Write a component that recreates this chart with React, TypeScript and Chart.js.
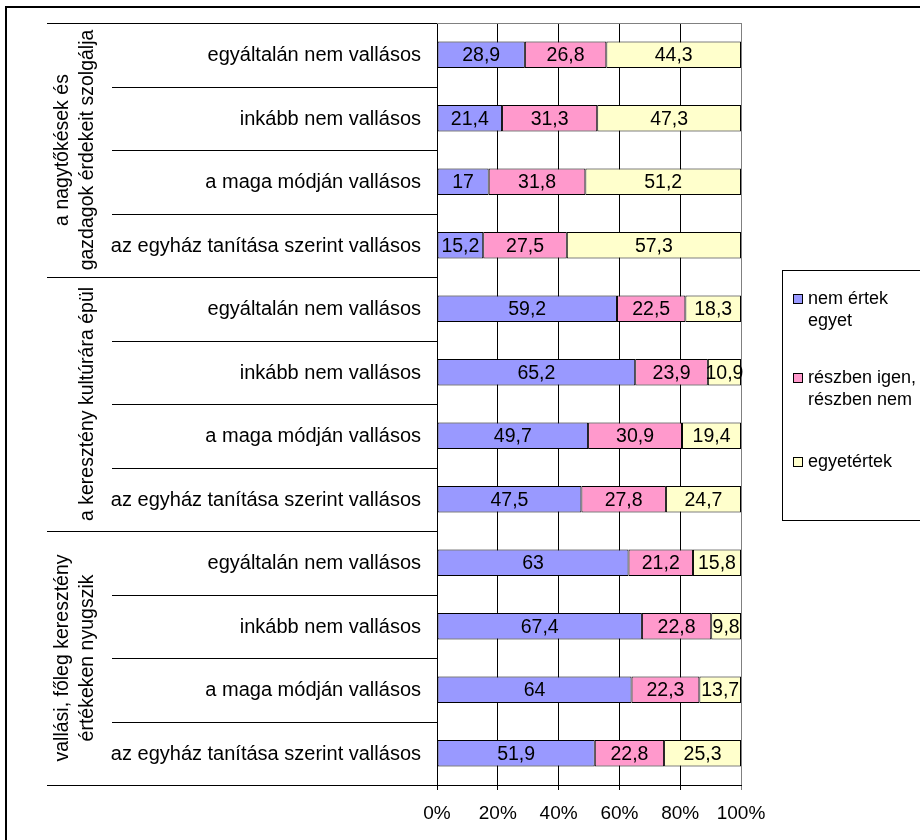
import React, { useEffect, useRef } from "react";
import { Chart, registerables } from "chart.js";

Chart.register(...registerables);

const categories = [
  "egyáltalán nem vallásos",
  "inkább nem vallásos",
  "a maga módján vallásos",
  "az egyház tanítása szerint vallásos",
  "egyáltalán nem vallásos",
  "inkább nem vallásos",
  "a maga módján vallásos",
  "az egyház tanítása szerint vallásos",
  "egyáltalán nem vallásos",
  "inkább nem vallásos",
  "a maga módján vallásos",
  "az egyház tanítása szerint vallásos",
];

const groupLabels: string[][] = [
  ["a nagytőkések és", "gazdagok érdekeit szolgálja"],
  ["a keresztény kultúrára épül"],
  ["vallási, főleg keresztény", "értékeken nyugszik"],
];
const groupSize = 4;

const seriesNames = ["nem értek egyet", "részben igen, részben nem", "egyetértek"];
const legendLines: string[][] = [
  ["nem értek", "egyet"],
  ["részben igen,", "részben nem"],
  ["egyetértek"],
];
const seriesColors = ["#9999FF", "#FF99CC", "#FFFFCC"];

const nemErtekEgyet = [28.9, 21.4, 17, 15.2, 59.2, 65.2, 49.7, 47.5, 63, 67.4, 64, 51.9];
const reszbenIgenNem = [26.8, 31.3, 31.8, 27.5, 22.5, 23.9, 30.9, 27.8, 21.2, 22.8, 22.3, 22.8];
const egyetertek = [44.3, 47.3, 51.2, 57.3, 18.3, 10.9, 19.4, 24.7, 15.8, 9.8, 13.7, 25.3];

const xTickValues = [0, 20, 40, 60, 80, 100];

const FONT = '"Liberation Sans", Arial, sans-serif';

const overlayPlugin = {
  id: "overlay",
  afterDraw(chart: any) {
    const ctx = chart.ctx as CanvasRenderingContext2D;
    const area = chart.chartArea;
    const yScale = chart.scales.y;
    const n = categories.length;
    const al = (v: number) => Math.round(v) + 0.5;

    ctx.save();
    // top border of plot area (gray)
    ctx.strokeStyle = "#808080";
    ctx.lineWidth = 1;
    ctx.beginPath();
    ctx.moveTo(area.left, al(area.top));
    ctx.lineTo(area.right + 1, al(area.top));
    ctx.stroke();

    // category labels
    ctx.fillStyle = "#000";
    ctx.font = `20px ${FONT}`;
    ctx.textAlign = "right";
    ctx.textBaseline = "middle";
    for (let i = 0; i < n; i++) {
      const y = yScale.getPixelForValue(i);
      ctx.fillText(categories[i], area.left - 16, y + 1);
    }

    // separators
    const bounds: number[] = [];
    for (let k = 0; k <= n; k++) {
      if (k === 0) bounds.push(area.top);
      else if (k === n) bounds.push(area.bottom);
      else bounds.push((yScale.getPixelForValue(k - 1) + yScale.getPixelForValue(k)) / 2);
    }
    ctx.strokeStyle = "#000";
    ctx.lineWidth = 1;
    for (let k = 0; k <= n; k++) {
      const x0 = k % groupSize === 0 ? 47 : 112;
      ctx.beginPath();
      ctx.moveTo(x0, al(bounds[k]));
      ctx.lineTo(area.left, al(bounds[k]));
      ctx.stroke();
    }

    // group labels (rotated)
    ctx.font = `19.5px ${FONT}`;
    ctx.textAlign = "center";
    ctx.textBaseline = "middle";
    groupLabels.forEach((lines, g) => {
      const cy = (bounds[g * groupSize] + bounds[(g + 1) * groupSize]) / 2;
      const xs = lines.length === 2 ? [63, 88] : [88];
      lines.forEach((line, li) => {
        ctx.save();
        ctx.translate(xs[li], cy);
        ctx.rotate(-Math.PI / 2);
        ctx.fillText(line, 0, 0);
        ctx.restore();
      });
    });

    // data labels
    ctx.font = `19.5px ${FONT}`;
    ctx.textAlign = "center";
    ctx.textBaseline = "middle";
    ctx.fillStyle = "#000";
    chart.data.datasets.forEach((ds: any, di: number) => {
      const meta = chart.getDatasetMeta(di);
      meta.data.forEach((bar: any, i: number) => {
        const v = ds.data[i];
        const cx = (bar.x + bar.base) / 2;
        ctx.fillText(String(v).replace(".", ","), cx, bar.y + 1);
      });
    });

    // legend
    ctx.strokeStyle = "#000";
    ctx.lineWidth = 1;
    ctx.strokeRect(782.5, 270.5, 160, 250);
    ctx.font = `18px ${FONT}`;
    ctx.textAlign = "left";
    ctx.textBaseline = "middle";
    const legendY = [299, 378, 462];
    legendLines.forEach((lines, i) => {
      const y0 = legendY[i];
      ctx.fillStyle = seriesColors[i];
      ctx.fillRect(793, y0 - 5, 10, 10);
      ctx.strokeStyle = "#000";
      ctx.strokeRect(793.5, y0 - 5 + 0.5, 9, 9);
      ctx.fillStyle = "#000";
      lines.forEach((line, li) => {
        ctx.fillText(line, 808, y0 + li * 22);
      });
    });

    // outer frame
    ctx.strokeStyle = "#000";
    ctx.lineWidth = 2;
    ctx.strokeRect(6, 7, 940, 860);
    ctx.restore();
  },
};

export default function App() {
  const canvasRef = useRef<HTMLCanvasElement | null>(null);

  useEffect(() => {
    const canvas = canvasRef.current;
    if (!canvas) return;
    const values = [nemErtekEgyet, reszbenIgenNem, egyetertek];
    const chart = new Chart(canvas, {
      type: "bar",
      data: {
        labels: categories,
        datasets: seriesNames.map((name, i) => ({
          label: name,
          data: values[i],
          backgroundColor: seriesColors[i],
          borderColor: "#000",
          borderWidth: 1,
          borderSkipped: false,
          barPercentage: 0.42,
          categoryPercentage: 1,
        })),
      },
      options: {
        indexAxis: "y",
        animation: false,
        responsive: false,
        devicePixelRatio: 1,
        layout: { padding: { left: 437, right: 179, top: 23, bottom: 0 } },
        plugins: {
          legend: { display: false },
          tooltip: { enabled: false },
          title: { display: false },
        },
        scales: {
          x: {
            stacked: true,
            min: 0,
            max: 100,
            afterBuildTicks: (scale: any) => {
              scale.ticks = xTickValues.map((v) => ({ value: v }));
            },
            afterFit: (scale: any) => {
              scale.height = 55;
            },
            ticks: {
              color: "#000",
              font: { family: FONT, size: 19 },
              padding: 12,
              maxRotation: 0,
              callback: (v: any) => `${v}%`,
            },
            grid: {
              color: (c: any) => (c.tick && c.tick.value === 100 ? "#808080" : "#000"),
              tickColor: (c: any) => (c.tick && c.tick.value === 100 ? "#808080" : "#000"),
              tickLength: 5,
              lineWidth: 1,
            },
            border: { display: true, color: "#000", width: 1 },
          },
          y: {
            stacked: true,
            display: false,
          },
        },
      },
      plugins: [overlayPlugin],
    } as any);
    return () => chart.destroy();
  }, []);

  return (
    <div style={{ position: "absolute", left: 0, top: 0, width: 920, height: 840, background: "#fff" }}>
      <canvas ref={canvasRef} width={920} height={840} style={{ display: "block" }} />
    </div>
  );
}
